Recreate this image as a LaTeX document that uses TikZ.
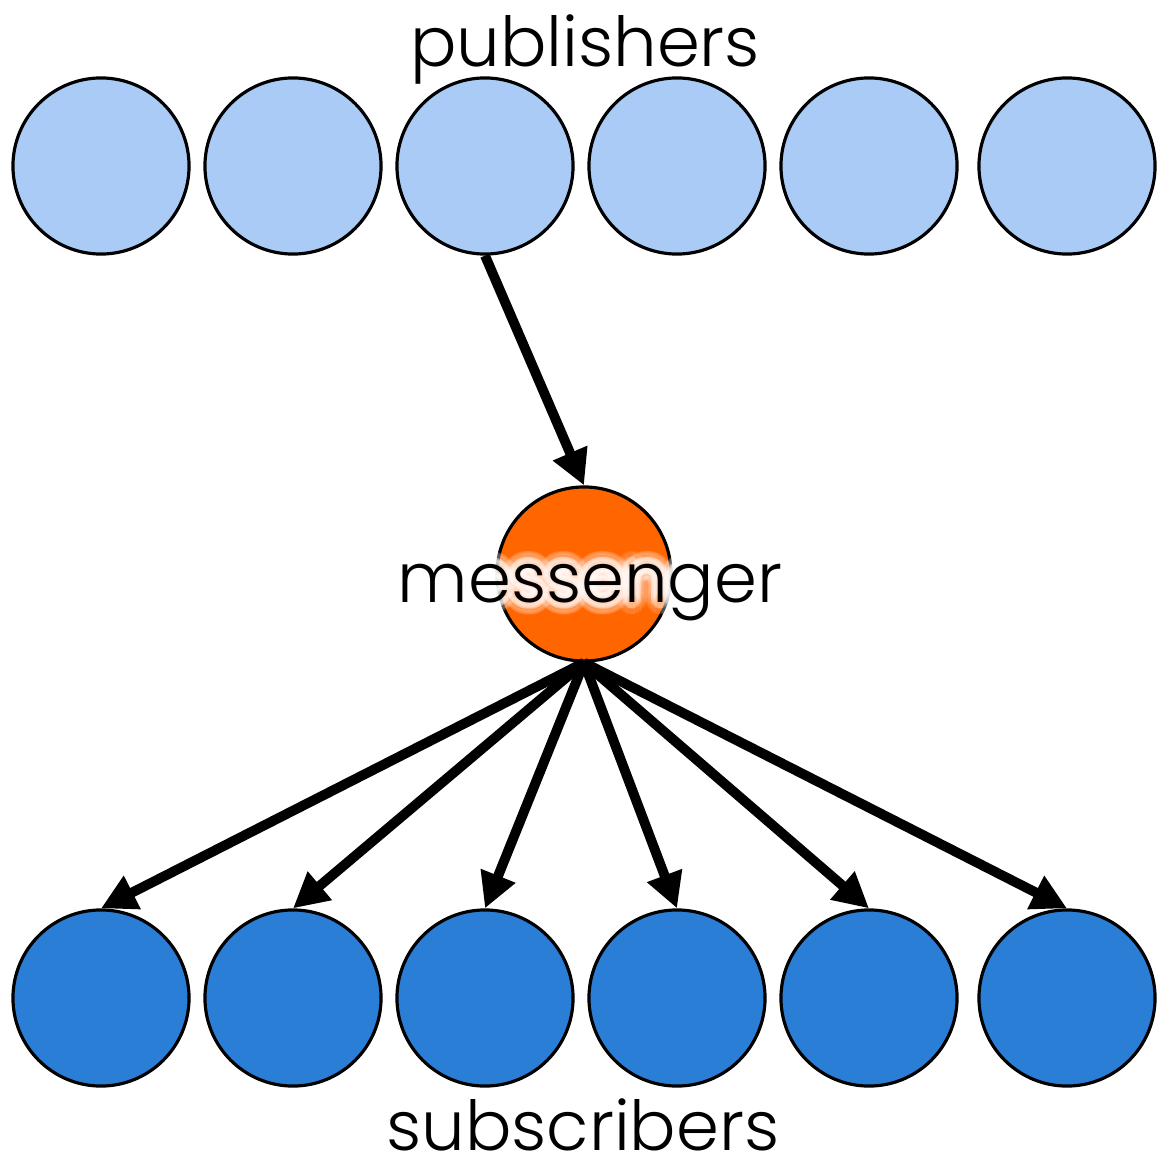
\documentclass[tikz,border=0pt]{standalone}
\usepackage{fontspec}
\setmainfont{Poppins}[UprightFont=* Light]
\usepackage[copies]{contour}
\contournumber{32}
\usetikzlibrary{arrows.meta}

\definecolor{pubblue}{HTML}{ABCBF7}
\definecolor{subblue}{HTML}{2B7ED6}
\definecolor{msgorange}{HTML}{FF6600}

\tikzset{
  pub/.style={circle, draw, line width=.9pt, fill=pubblue, minimum size=1.76cm, inner sep=0pt},
  sub/.style={pub, fill=subblue},
  msg/.style={pub, fill=msgorange, minimum size=1.74cm},
  caption/.style={anchor=base, inner sep=0pt, font=\fontsize{19.6}{24}\selectfont},
  glow/.style={caption, text=white},
  flow/.style={line width=2.8pt, -{Triangle[length=10pt, width=10pt]}},
}

\begin{document}
\begin{tikzpicture}[x=0.01cm, y=-0.01cm]
        \useasboundingbox (0,0) rectangle (1165,1170);
        % top row
        \node[pub] (p1) at (101, 166) {};
        \node[pub] (p2) at (293, 166) {};
        \node[pub] (p3) at (485, 166) {};
        \node[pub] (p4) at (677, 166) {};
        \node[pub] (p5) at (869, 166) {};
        \node[pub] (p6) at (1067, 166) {};
        \node[caption] (pubs) at (585, 67) {publishers};
        % middle, label with a white halo
        \node[msg] (m) at (584, 574) {};
        \node[glow, opacity=.08] at (590, 602) {\contourlength{3.5pt}\contour{white}{messenger}};
        \node[glow, opacity=.15] at (590, 602) {\contourlength{2pt}\contour{white}{messenger}};
        \node[caption] (msgs) at (590, 602) {messenger};
        % bottom row
        \node[sub] (s1) at (101, 998) {};
        \node[sub] (s2) at (293, 998) {};
        \node[sub] (s3) at (485, 998) {};
        \node[sub] (s4) at (677, 998) {};
        \node[sub] (s5) at (869, 998) {};
        \node[sub] (s6) at (1067, 998) {};
        \node[caption] (subs) at (583, 1150) {subscribers};
        % arrows
        \draw[flow] (p3.south) -- (m.north);
        \draw[flow] (m.south) -- (s1.north);
        \draw[flow] (m.south) -- (s2.north);
        \draw[flow] (m.south) -- (s3.north);
        \draw[flow] (m.south) -- (s4.north);
        \draw[flow] (m.south) -- (s5.north);
        \draw[flow] (m.south) -- (s6.north);
\end{tikzpicture}
\end{document}
